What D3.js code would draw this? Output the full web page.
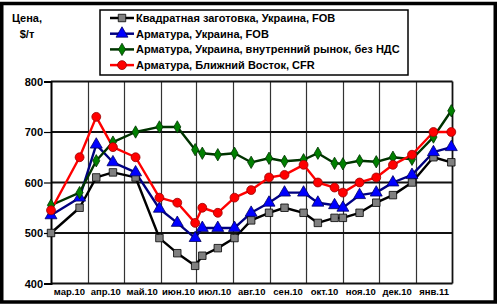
<!DOCTYPE html>
<html>
<head>
<meta charset="utf-8">
<script src="https://cdn.jsdelivr.net/npm/d3@7"></script>
<style>
  body { margin: 0; background: #fff; }
  svg { font-family: "Liberation Sans", Arial, sans-serif; font-weight: bold; }
</style>
</head>
<body>
<svg id="chart"></svg>
<script>
var w = 500;
var h = 306;

// даты наблюдений
var dates = ['2010-03-01', '2010-03-25', '2010-04-08', '2010-04-22', '2010-05-11', '2010-05-31',
  '2010-06-15', '2010-06-30', '2010-07-06', '2010-07-19', '2010-08-02', '2010-08-16',
  '2010-08-31', '2010-09-13', '2010-09-29', '2010-10-11', '2010-10-25', '2010-11-01',
  '2010-11-15', '2010-11-29', '2010-12-13', '2010-12-29', '2011-01-16', '2011-01-31'];

var billet = [500, 550, 610, 620, 610, 490, 460, 435, 455, 470, 490, 525,
  540, 550, 540, 520, 530, 530, 540, 560, 575, 600, 650, 640];
var rebarFob = [535, 570, 675, 640, 620, 548, 520, 490, 510, 510, 510, 540,
  560, 580, 580, 560, 555, 550, 575, 580, 600, 615, 660, 670];
var rebarDomestic = [555, 580, 643, 680, 700, 710, 710, 665, 658, 655, 658, 640,
  648, 642, 645, 658, 638, 637, 643, 641, 650, 646, 690, 742];
var rebarMe = [545, 650, 730, 670, 650, 570, 560, 520, 550, 540, 570, 585,
  610, 615, 635, 600, 590, 580, 600, 610, 635, 655, 700, 700];

var seriesNames = ['Квадратная заготовка, Украина, FOB', 'Арматура, Украина, FOB',
  'Арматура, Украина, внутренний рынок, без НДС', 'Арматура, Ближний Восток, CFR'];
var monthLabels = ['мар.10', 'апр.10', 'май.10', 'июн.10', 'июл.10', 'авг.10',
  'сен.10', 'окт.10', 'ноя.10', 'дек.10', 'янв.11'];
var yTicks = [400, 500, 600, 700, 800];

var parse = d3.timeParse('%Y-%m-%d');
var series = [
  {name: seriesNames[0], values: billet, line: '#000000', fill: '#808080', stroke: '#000000', shape: d3.symbolSquare, size: 56},
  {name: seriesNames[1], values: rebarFob, line: '#000080', fill: '#0000ff', stroke: '#000060', shape: d3.symbolTriangle, size: 62},
  {name: seriesNames[2], values: rebarDomestic, line: '#003300', fill: '#008000', stroke: '#003300', shape: d3.symbolDiamond, size: 44},
  {name: seriesNames[3], values: rebarMe, line: '#ff0000', fill: '#ff0000', stroke: '#990000', shape: d3.symbolCircle, size: 62}
];

var pLeft = 51, pRight = 452.5, pTop = 81.5, pBottom = 283.5;

var x = d3.scaleTime()
  .domain([new Date(2010, 2, 1), new Date(2011, 1, 1)])
  .range([pLeft, pRight]);
var y = d3.scaleLinear().domain([400, 800]).range([pBottom, pTop]);

var svg = d3.select('#chart').attr('width', w).attr('height', h);

// рамка
svg.append('rect')
  .attr('x', 1.75).attr('y', 3.5).attr('width', 493.5).attr('height', 298.5)
  .style('fill', 'none').style('stroke', '#000').style('stroke-width', 3.5);

// вертикальная сетка
var monthStarts = d3.timeMonth.range(new Date(2010, 2, 1), new Date(2011, 1, 2));
svg.selectAll('.vgrid')
  .data(monthStarts.slice(1, -1))
  .enter()
  .append('line')
  .attr('x1', function (d) { return Math.round(x(d)) + 0.5; })
  .attr('x2', function (d) { return Math.round(x(d)) + 0.5; })
  .attr('y1', pTop).attr('y2', pBottom)
  .style('stroke', '#333').style('stroke-width', 1.2);

// горизонтальная сетка
svg.selectAll('.hgrid')
  .data(yTicks)
  .enter()
  .append('line')
  .attr('x1', pLeft).attr('x2', pRight)
  .attr('y1', function (d) { return y(d); })
  .attr('y2', function (d) { return y(d); })
  .style('stroke', '#111').style('stroke-width', 1.8);

// правая граница
svg.append('line')
  .attr('x1', pRight).attr('x2', pRight).attr('y1', pTop).attr('y2', pBottom)
  .style('stroke', '#111').style('stroke-width', 1.8);

// ось Y
var yAxis = svg.append('g')
  .attr('transform', 'translate(' + pLeft + ',0)')
  .call(d3.axisLeft(y).tickValues(yTicks).tickSize(7).tickPadding(1));
yAxis.select('.domain').style('stroke', '#000').style('stroke-width', 2);
yAxis.selectAll('.tick line').style('stroke', '#000').style('stroke-width', 1.2);
yAxis.selectAll('text')
  .style('font-family', '"Liberation Sans", Arial, sans-serif')
  .style('font-weight', 'bold').style('font-size', '11px').style('fill', '#000');

// подписи месяцев
svg.selectAll('.mlabel')
  .data(monthLabels)
  .enter()
  .append('text')
  .attr('x', function (d, i) {
    return (x(monthStarts[i]) + x(monthStarts[i + 1])) / 2;
  })
  .attr('y', 295)
  .attr('text-anchor', 'middle')
  .style('font-size', '9.5px')
  .text(function (d) { return d; });

// подпись оси
svg.append('text').attr('x', 27).attr('y', 22).attr('text-anchor', 'middle')
  .style('font-size', '11px').text('Цена,');
svg.append('text').attr('x', 27).attr('y', 38).attr('text-anchor', 'middle')
  .style('font-size', '11px').text('$/т');

// линии и маркеры
var line = d3.line()
  .x(function (d, i) { return x(parse(dates[i])); })
  .y(function (d) { return y(d); });

series.forEach(function (s) {
  svg.append('path')
    .datum(s.values)
    .attr('d', line)
    .style('fill', 'none')
    .style('stroke', s.line)
    .style('stroke-width', 2.4)
    .style('stroke-linejoin', 'round');
});

series.forEach(function (s) {
  svg.selectAll(null)
    .data(s.values)
    .enter()
    .append('path')
    .attr('d', d3.symbol().type(s.shape).size(s.size))
    .attr('transform', function (d, i) {
      return 'translate(' + x(parse(dates[i])) + ',' + y(d) + ')';
    })
    .style('fill', s.fill)
    .style('stroke', s.stroke)
    .style('stroke-width', 0.8);
});

// легенда
svg.append('rect')
  .attr('x', 100).attr('y', 10).attr('width', 308).attr('height', 65)
  .style('fill', '#fff').style('stroke', '#000').style('stroke-width', 1.5);

var leg = svg.selectAll('.leg')
  .data(series)
  .enter()
  .append('g')
  .attr('transform', function (d, i) { return 'translate(0,' + (18 + i * 15.7) + ')'; });

leg.append('line')
  .attr('x1', 110).attr('x2', 134).attr('y1', 0).attr('y2', 0)
  .style('stroke', function (d) { return d.line; })
  .style('stroke-width', 2.5);
leg.append('path')
  .attr('d', function (d) { return d3.symbol().type(d.shape).size(d.size)(); })
  .attr('transform', 'translate(122,0)')
  .style('fill', function (d) { return d.fill; })
  .style('stroke', function (d) { return d.stroke; })
  .style('stroke-width', 0.8);
leg.append('text')
  .attr('x', 136).attr('y', 4)
  .style('font-size', '11px')
  .text(function (d) { return d.name; });
</script>
</body>
</html>
